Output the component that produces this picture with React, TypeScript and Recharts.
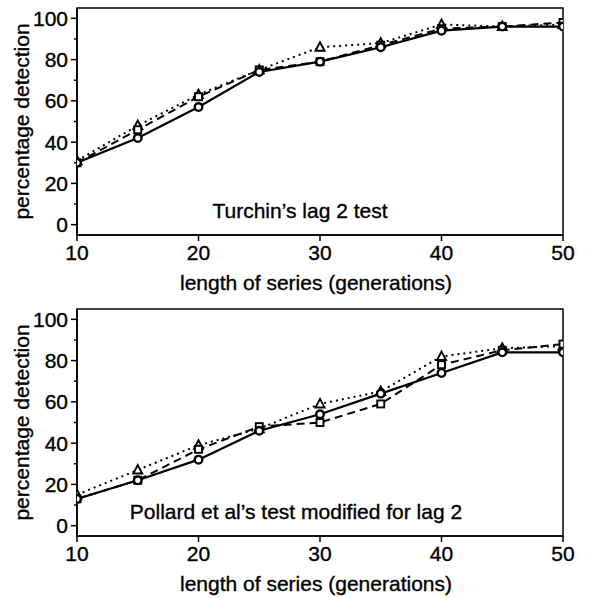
import React from 'react';
import { LineChart, Line, XAxis, YAxis, ReferenceArea, Label } from 'recharts';

const lengths = [10, 15, 20, 25, 30, 35, 40, 45, 50];

const turchinSolid = [30, 42, 57, 74, 79, 86, 94, 96, 96];
const turchinDotted = [31, 48, 63, 75, 86, 88, 97, 96, 97];
const turchinDashed = [30, 46, 62, 75, 79, 87, 95, 96, 98];

const pollardSolid = [13, 22, 32, 46, 54, 64, 74, 84, 84];
const pollardDotted = [15, 27, 39, 47, 59, 65, 82, 86, 87];
const pollardDashed = [13, 22, 37, 48, 50, 59, 78, 85, 88];

const xTicks = [10, 20, 30, 40, 50];
const yTicks = [0, 10, 20, 30, 40, 50, 60, 70, 80, 90, 100];

const panelTitles = ["Turchin\u2019s lag 2 test", "Pollard et al\u2019s test modified for lag 2"];
const xTitle = 'length of series (generations)';
const yTitle = 'percentage detection';

const FONT = '"Liberation Sans", Arial, Helvetica, sans-serif';
const FS = 21;
const TXT = { fontFamily: FONT, fontSize: FS, fill: '#000', stroke: '#000', strokeWidth: 0.35 };

const build = (a: number[], b: number[], c: number[]) =>
  lengths.map((x, i) => ({ x, solid: a[i], dotted: b[i], dashed: c[i] }));

const dataTop = build(turchinSolid, turchinDotted, turchinDashed);
const dataBottom = build(pollardSolid, pollardDotted, pollardDashed);

const CircleDot = (p: any) => (
  <circle key={`c${p.index}`} cx={p.cx} cy={p.cy} r={3.8} fill="#fff" stroke="#000" strokeWidth={2.4} />
);
const TriDot = (p: any) => (
  <path
    key={`t${p.index}`}
    d={`M${p.cx},${p.cy - 5} L${p.cx + 4.5},${p.cy + 3.5} L${p.cx - 4.5},${p.cy + 3.5} Z`}
    fill="#fff"
    stroke="#000"
    strokeWidth={1.9}
  />
);
const SqDot = (p: any) => (
  <rect key={`s${p.index}`} x={p.cx - 3.5} y={p.cy - 3.5} width={7} height={7} fill="#fff" stroke="#000" strokeWidth={1.9} />
);

const YTick = (props: any) => {
  const { x, y, payload } = props;
  const v = payload.value;
  const major = v % 20 === 0;
  return (
    <g>
      <line x1={x - (major ? 6 : 3)} x2={x} y1={y} y2={y} stroke="#000" strokeWidth={1.5} />
      {major && (
        <text x={x - 9} y={y} dy="0.36em" textAnchor="end" {...TXT}>
          {v}
        </text>
      )}
    </g>
  );
};

const XTick = (props: any) => {
  const { x, y, payload } = props;
  return (
    <text x={x} y={y} dy="0.75em" textAnchor="middle" {...TXT}>
      {payload.value}
    </text>
  );
};

const Panel = ({ data, title, height, top, xAxisHeight, titleShift }: any) => (
  <LineChart
    width={593}
    height={height}
    data={data}
    margin={{ top, right: 30, bottom: 0, left: 0 }}
  >
    <XAxis
      dataKey="x"
      type="number"
      domain={[10, 50]}
      ticks={xTicks}
      allowDataOverflow
      height={xAxisHeight}
      tickSize={6}
      tickMargin={3}
      tick={<XTick />}
      axisLine={{ stroke: '#000', strokeWidth: 1.5 }}
      tickLine={{ stroke: '#000', strokeWidth: 1.5 }}
    >
      <Label
        content={(p: any) => {
          const vb = p.viewBox;
          return (
            <text x={316} y={vb.y + 48} dy="0.35em" textAnchor="middle" {...TXT}>
              {xTitle}
            </text>
          );
        }}
      />
    </XAxis>
    <YAxis
      type="number"
      domain={[-5, 105]}
      ticks={yTicks}
      allowDataOverflow
      width={77}
      tickSize={0}
      tickMargin={0}
      tick={<YTick />}
      interval={0}
      axisLine={{ stroke: '#000', strokeWidth: 1.5 }}
      tickLine={false}
    >
      <Label
        content={(p: any) => {
          const vb = p.viewBox;
          const cy = vb.y + vb.height / 2;
          return (
            <text
              x={22}
              y={cy}
              dy="0.35em"
              textAnchor="middle"
              transform={`rotate(-90 22 ${cy})`}
              {...TXT}
            >
              {yTitle}
            </text>
          );
        }}
      />
    </YAxis>
    <ReferenceArea x1={10} x2={50} y1={-5} y2={105} fill="none" stroke="#000" strokeWidth={1.5} ifOverflow="visible">
      <Label
        content={(p: any) => {
          const vb = p.viewBox;
          return (
            <text
              x={vb.x + vb.width / 2 + titleShift}
              y={vb.y + vb.height - 24}
              dy="0.35em"
              textAnchor="middle"
              {...TXT}
            >
              {title}
            </text>
          );
        }}
      />
    </ReferenceArea>
    <Line
      dataKey="dotted"
      stroke="#000"
      strokeWidth={2}
      strokeDasharray="2 4"
      dot={TriDot}
      isAnimationActive={false}
    />
    <Line
      dataKey="dashed"
      stroke="#000"
      strokeWidth={2}
      strokeDasharray="8 5"
      dot={SqDot}
      isAnimationActive={false}
    />
    <Line dataKey="solid" stroke="#000" strokeWidth={2.2} dot={CircleDot} isAnimationActive={false} />
  </LineChart>
);

export default function App() {
  return (
    <div style={{ position: 'absolute', left: 0, top: 0, width: 593, height: 598, background: '#fff' }}>
      <div style={{ position: 'absolute', left: 0, top: 0 }}>
        <Panel data={dataTop} title={panelTitles[0]} height={300} top={8} xAxisHeight={65} titleShift={-20} />
      </div>
      <div style={{ position: 'absolute', left: 0, top: 300 }}>
        <Panel data={dataBottom} title={panelTitles[1]} height={298} top={9} xAxisHeight={62} titleShift={-24} />
      </div>
    </div>
  );
}
